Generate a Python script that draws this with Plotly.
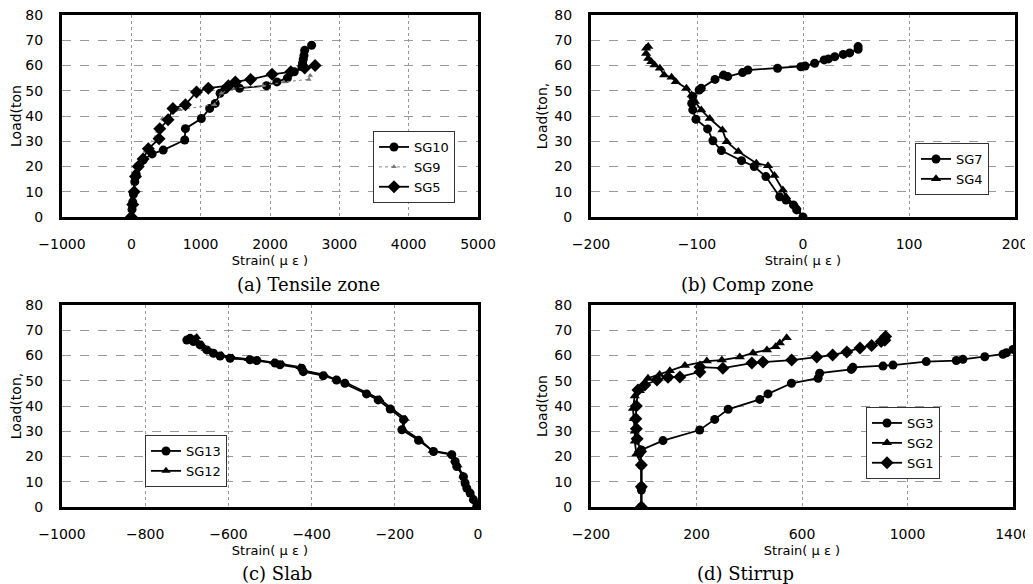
import plotly.graph_objects as go

# ---------------- data ----------------
# (a) Tensile zone
sg10_x = [0, 10, 20, 30, 50, 70, 100, 170, 300, 460, 770, 780, 1010, 1130, 1210, 1280, 1350, 1560, 1950, 2100, 2250, 2350, 2460, 2470, 2480, 2490, 2500, 2600]
sg10_y = [0, 3, 6, 9, 14, 17, 20, 22.5, 25, 26.5, 30.5, 35, 39, 43, 45, 49, 50.5, 51, 52, 53.5, 55, 57.5, 59.5, 61, 62.5, 64, 66, 68]
sg9_x = [0, 20, 40, 70, 110, 200, 380, 450, 700, 1200, 1300, 1450, 1900, 2200, 2560, 2580]
sg9_y = [0, 5, 10, 17, 21, 26, 34, 39, 42.5, 44.5, 49, 51, 52, 53.5, 54.5, 56]
sg5_x = [0, 20, 40, 60, 100, 170, 245, 400, 410, 530, 600, 780, 940, 1110, 1400, 1500, 1720, 2030, 2300, 2500, 2650]
sg5_y = [0, 5, 10, 16, 20, 23, 27, 31, 35, 38.5, 43, 44.5, 49.5, 51, 52, 53.5, 54.5, 56.5, 57.5, 59, 60]

# (b) Comp zone
sg7_x = [0, -6, -9, -16, -22, -35, -46, -58, -77, -85, -90, -101, -104, -105, -104, -98, -96, -83, -75, -71, -57, -52, -24, -2, 2, 11, 20, 24, 30, 38, 44, 52, 52]
sg7_y = [0, 2.8, 4.8, 6.7, 8, 16, 20, 22.3, 26.3, 30.2, 34.9, 38.7, 42.4, 45, 47.7, 50.3, 51, 54.5, 56.2, 55.6, 57.2, 58.2, 58.9, 59.5, 59.8, 60.9, 62.2, 62.6, 63.5, 64.4, 65, 66.4, 67.5]
sg4_x = [0, -6, -16, -19, -27, -33, -44, -61, -72, -76, -88, -96, -102, -105, -110, -120, -124, -131, -135, -140, -143, -146, -148, -148, -146]
sg4_y = [0, 4, 8, 10.7, 16.4, 20.3, 21.3, 25.9, 29.8, 34.5, 39, 42.4, 45.7, 48.3, 51, 53.6, 55.3, 56.2, 58.9, 60.2, 61.5, 62.8, 64.8, 66.8, 67.5]

# (c) Slab
sg13_x = [-3, -11, -19, -27, -31, -35, -51, -55, -63, -107, -143, -183, -179, -211, -240, -268, -320, -340, -372, -420, -424, -476, -488, -532, -548, -596, -620, -636, -652, -668, -684, -692, -700]
sg13_y = [0.3, 2.9, 5.5, 7.5, 9.5, 12, 16, 18, 20.7, 22, 26.4, 30.6, 34.6, 38.8, 42.4, 44.8, 49, 50.3, 52, 53.6, 55, 56.3, 57, 58, 58.3, 58.9, 59.8, 60.9, 62.2, 64.2, 65.5, 66.8, 66.1]
sg12_x = [0, -8, -16, -25, -30, -36, -48, -56, -65, -110, -140, -180, -175, -208, -236, -265, -318, -342, -368, -418, -428, -470, -492, -528, -552, -590, -616, -640, -656, -664, -676, -680, -676]
sg12_y = [0, 2.5, 5, 7, 9, 12.5, 16.5, 18.5, 21, 22.3, 26.6, 31, 35, 39, 42.8, 45, 49.3, 50.5, 52.3, 54, 55.4, 56.6, 57.3, 58.2, 58.6, 59.2, 60.2, 61.4, 62.7, 64.5, 65.8, 66.8, 67.3]

# (d) Stirrup
sg3_x = [-9, -9, -9, -9, -15, -9, 73, 212, 269, 320, 440, 471, 560, 661, 667, 787, 793, 907, 945, 1071, 1185, 1210, 1293, 1362, 1375, 1400]
sg3_y = [0, 6.7, 8, 16.6, 21.3, 22.6, 26.3, 30.5, 34.7, 38.7, 42.6, 44.8, 49, 51, 53, 54.5, 55.3, 55.8, 56.2, 57.6, 58, 58.5, 59.5, 60.5, 61.1, 62.4]
sg2_x = [-9, -9, -9, -28, -34, -34, -38, -41, -34, -15, 16, 60, 99, 156, 239, 296, 364, 414, 467, 500, 516, 542]
sg2_y = [0, 8, 17, 21, 26, 30, 35, 39, 44, 46, 51, 52.5, 54, 56, 57.8, 58.2, 59.4, 61, 62.2, 63.5, 65, 67]
sg1_x = [-9, -9, -9, -12, -25, -28, -30, -28, -22, 4, 50, 92, 137, 213, 213, 300, 410, 452, 561, 656, 716, 770, 820, 864, 900, 914, 917]
sg1_y = [0, 8, 16.6, 22, 27, 31, 35, 40, 46.3, 48.3, 50.3, 51.4, 51.5, 53.5, 55.4, 55, 57, 57.4, 58.2, 59.4, 60.2, 61.4, 63, 64, 65.5, 66, 67.5]

x_ticks_a = [-1000, 0, 1000, 2000, 3000, 4000, 5000]
x_ticks_b = [-200, -100, 0, 100, 200]
x_ticks_c = [-1000, -800, -600, -400, -200, 0]
x_ticks_d = [-200, 200, 600, 1000, 1400]
y_ticks = [0, 10, 20, 30, 40, 50, 60, 70, 80]

captions = ["(a) Tensile zone", "(b) Comp zone", "(c) Slab", "(d) Stirrup"]
x_title = "Strain( μ ε )"
y_titles = ["Load(ton", "Load(ton,", "Load(ton,", "Load(ton"]

# ---------------- figure ----------------
# the page body adds an 8px offset, so the figure is 8px smaller and shifted
OFF = 8
W, H = 1033 - OFF, 584 - OFF


def px(xp):
    return (xp - OFF) / W


def py(yp):
    return 1 - (yp - OFF) / H


fig = go.Figure()

line = dict(color="black", width=1.8)


def add(x, y, name, sym, size, ax, leg, ln=None, mcolor="black"):
    fig.add_trace(go.Scatter(
        x=x, y=y, name=name, mode="lines+markers",
        line=ln if ln else line,
        marker=dict(symbol=sym, size=size, color=mcolor),
        xaxis="x" + ax, yaxis="y" + ax, legend=leg))


add(sg10_x, sg10_y, "SG10", "circle", 9, "", "legend")
add(sg9_x, sg9_y, "SG9", "triangle-up", 5, "", "legend",
    ln=dict(color="#888888", width=1, dash="dot"), mcolor="#777777")
add(sg5_x, sg5_y, "SG5", "diamond", 10, "", "legend")
add(sg7_x, sg7_y, "SG7", "circle", 9, "2", "legend2")
add(sg4_x, sg4_y, "SG4", "triangle-up", 9, "2", "legend2")
add(sg13_x, sg13_y, "SG13", "circle", 9, "3", "legend3")
add(sg12_x, sg12_y, "SG12", "triangle-up", 8, "3", "legend3")
add(sg3_x, sg3_y, "SG3", "circle", 9, "4", "legend4")
add(sg2_x, sg2_y, "SG2", "triangle-up", 9, "4", "legend4")
add(sg1_x, sg1_y, "SG1", "diamond", 10, "4", "legend4")

tick_font = dict(family="DejaVu Sans", size=14, color="black")


def xax(dom, rng, ticks, anchor):
    return dict(domain=dom, range=rng, tickvals=ticks, anchor=anchor, automargin=False,
                showline=True, mirror=True, linecolor="black", linewidth=3,
                showgrid=True, gridcolor="#999999", gridwidth=1, griddash="dot",
                zeroline=False, ticks="", tickfont=tick_font, ticklabelstandoff=12,
                ticklabeloverflow="allow",
                title=dict(text=x_title, font=dict(family="DejaVu Sans", size=13, color="black"), standoff=6))


def yax(dom, anchor, title):
    return dict(domain=dom, range=[0, 80], tickvals=y_ticks, anchor=anchor, automargin=False,
                showline=True, mirror=True, linecolor="black", linewidth=3,
                showgrid=True, gridcolor="#999999", gridwidth=1, griddash="dash",
                zeroline=False, ticks="", tickfont=tick_font, ticklabelstandoff=13,
                ticklabeloverflow="allow",
                title=dict(text=title, font=dict(family="DejaVu Sans", size=14, color="black"), standoff=4))


legend_style = dict(bordercolor="#333333", borderwidth=1, bgcolor="white",
                    font=dict(family="DejaVu Sans", size=13, color="black"),
                    xanchor="left", yanchor="top", tracegroupgap=0, itemwidth=30)

top_dom = [py(217), py(15)]
bot_dom = [py(507), py(305)]

fig.update_layout(
    width=W, height=H, margin=dict(l=0, r=0, t=0, b=0, autoexpand=False),
    paper_bgcolor="white", plot_bgcolor="white",
    xaxis=xax([px(62), px(478)], [-1000, 5000], x_ticks_a, "y"),
    yaxis=yax(top_dom, "x", y_titles[0]),
    xaxis2=xax([px(591), px(1015)], [-200, 200], x_ticks_b, "y2"),
    yaxis2=yax(top_dom, "x2", y_titles[1]),
    xaxis3=xax([px(62), px(478)], [-1000, 0], x_ticks_c, "y3"),
    yaxis3=yax(bot_dom, "x3", y_titles[2]),
    xaxis4=xax([px(591), px(1013)], [-200, 1400], x_ticks_d, "y4"),
    yaxis4=yax(bot_dom, "x4", y_titles[3]),
    legend=dict(x=px(373), y=py(131), **legend_style),
    legend2=dict(x=px(915), y=py(143), **legend_style),
    legend3=dict(x=px(145), y=py(435), **legend_style),
    legend4=dict(x=px(866), y=py(407), **legend_style),
)

cap_pos = [(308, 284), (747, 284), (277, 573), (745, 573)]
for text, (cx, cy) in zip(captions, cap_pos):
    fig.add_annotation(text=text, x=px(cx), y=py(cy), xref="paper", yref="paper",
                       showarrow=False, xanchor="center", yanchor="middle",
                       font=dict(family="DejaVu Serif", size=18, color="black"))

fig.write_html("out.html")
